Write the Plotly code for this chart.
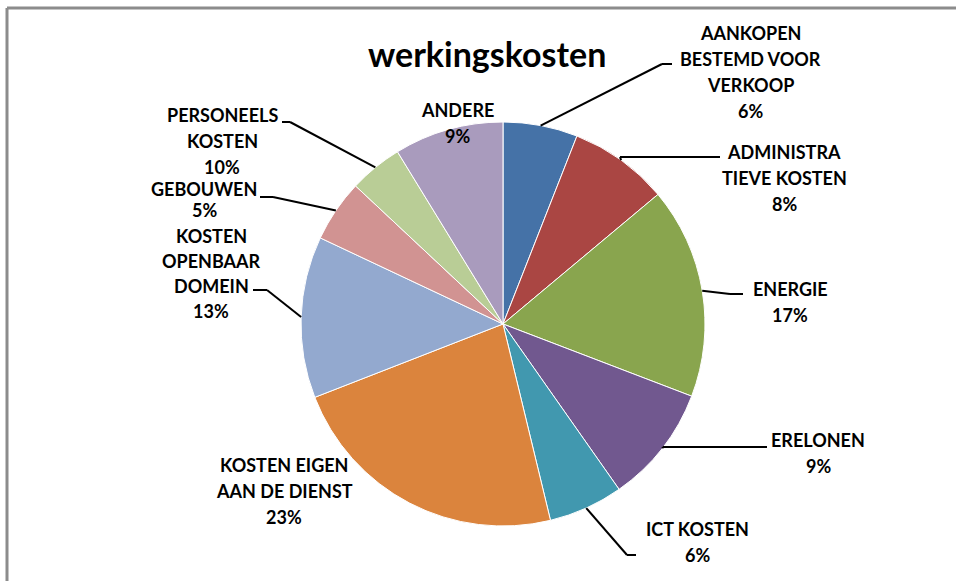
import math
import plotly.graph_objects as go

W, H = 956, 581

# ---- data ----
categories = [
    "AANKOPEN BESTEMD VOOR VERKOOP", "ADMINISTRATIEVE KOSTEN", "ENERGIE", "ERELONEN",
    "ICT KOSTEN", "KOSTEN EIGEN AAN DE DIENST", "KOSTEN OPENBAAR DOMEIN", "GEBOUWEN",
    "PERSONEELS KOSTEN", "ANDERE",
]
values = [6, 8, 17, 9.5, 6, 23, 13, 5, 4.3, 8.8]
pct_labels = ["6%", "8%", "17%", "9%", "6%", "23%", "13%", "5%", "10%", "9%"]
label_lines = [
    ["AANKOPEN", "BESTEMD VOOR", "VERKOOP"],
    ["ADMINISTRA", "TIEVE KOSTEN"],
    ["ENERGIE"],
    ["ERELONEN"],
    ["ICT KOSTEN"],
    ["KOSTEN EIGEN", "AAN DE DIENST"],
    ["KOSTEN", "OPENBAAR", "DOMEIN"],
    ["GEBOUWEN"],
    ["PERSONEELS", "KOSTEN"],
    ["ANDERE"],
]
colors = ["#4572A7", "#AA4643", "#89A54E", "#71588F", "#4198AF",
          "#DB843D", "#93A9CF", "#D19392", "#B9CD96", "#A99BBD"]

# ---- layout (pixels) ----
CX, CY, R = 503, 324, 202
# label text center x, first-line y, line gap
label_pos = [(750, 33, 26), (784, 152, 26), (790, 289, 26), (818, 440, 26), (697, 529, 26),
             (284, 465, 26), (211, 236, 25), (204, 189, 21), (222, 115, 26), (457, 110, 26)]
# leader line: elbow point and end point (None = no leader)
leaders = [((662, 64), (672, 64)), ((620, 157), (720, 157)), ((730, 294), (743, 294)),
           ((663, 447), (767, 447)), ((627, 555), (636, 555)), None,
           ((267, 290), (253, 290)), ((273, 197), (260, 197)), ((290, 122), (282, 122)), None]

def px(x):
    return x / W

def py(y):
    return 1 - y / H

fig = go.Figure(go.Pie(
    labels=categories, values=values, sort=False, direction="clockwise", rotation=0,
    marker=dict(colors=colors, line=dict(color="white", width=1)),
    textinfo="none", hoverinfo="label+percent", showlegend=False,
    domain=dict(x=[px(CX - R), px(CX + R)], y=[py(CY + R), py(CY - R)]),
))

FONT = "Lato, 'Open Sans', sans-serif"
annotations = []
shapes = []
total = sum(values)
cum = 0
for i, v in enumerate(values):
    mid = (cum + v / 2) / total * 2 * math.pi
    cum += v
    lx, ly, gap = label_pos[i]
    lines = label_lines[i] + [pct_labels[i]]
    for k, t in enumerate(lines):
        annotations.append(dict(
            x=px(lx), y=py(ly + k * gap), xref="paper", yref="paper",
            text="<b>%s</b>" % t, showarrow=False, xanchor="center", yanchor="middle",
            font=dict(family=FONT, size=18, color="#000000"), borderpad=0,
        ))
    if leaders[i] is not None:
        sx = CX + R * math.sin(mid)
        sy = CY - R * math.cos(mid)
        (ex, ey), (fx, fy) = leaders[i]
        for (a, b), (c, d) in [((sx, sy), (ex, ey)), ((ex, ey), (fx, fy))]:
            shapes.append(dict(type="line", xref="paper", yref="paper",
                               x0=px(a), y0=py(b), x1=px(c), y1=py(d),
                               line=dict(color="#000000", width=2)))

# chart frame (top and left edges)
shapes.append(dict(type="line", xref="paper", yref="paper", x0=px(7), y0=py(8), x1=1, y1=py(8),
                   line=dict(color="#8c8c8c", width=3)))
shapes.append(dict(type="line", xref="paper", yref="paper", x0=px(7), y0=py(8), x1=px(7), y1=0,
                   line=dict(color="#8c8c8c", width=3)))

annotations.append(dict(
    x=px(487), y=py(53), xref="paper", yref="paper", text="<b>werkingskosten</b>",
    showarrow=False, xanchor="center", yanchor="middle",
    font=dict(family=FONT, size=34, color="#000000"),
))

fig.update_layout(
    width=W, height=H, margin=dict(l=0, r=0, t=0, b=0),
    paper_bgcolor="white", plot_bgcolor="white",
    annotations=annotations, shapes=shapes,
)

fig.write_html("out.html", config={"displayModeBar": False},
               post_script="document.body.style.margin='0';")
